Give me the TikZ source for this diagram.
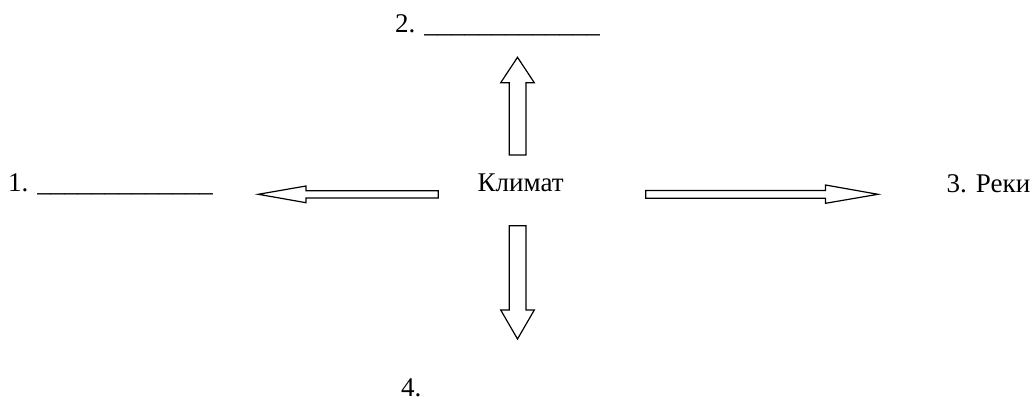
\documentclass[tikz,border=0pt]{standalone}
\usepackage{fontspec}
\setmainfont{Liberation Serif}
\begin{document}
\begin{tikzpicture}[x=1pt,y=-1pt,
  blockarrow/.style={draw=black,line width=1.2pt,fill=white,line join=miter},
  lbl/.style={anchor=base west,inner sep=0pt,font=\fontsize{27}{30}\selectfont}]
\useasboundingbox (0,0) rectangle (1036,401);
% labels
\node[lbl] (t1) at (8,191) {1. \_\_\_\_\_\_\_\_\_\_\_\_\_};
\node[lbl] (t2) at (395,32.5) {2. \_\_\_\_\_\_\_\_\_\_\_\_\_};
\node[lbl] (c) at (477.5,191) {Климат};
\node[lbl] (t3) at (946.5,192) {3. Реки};
\node[lbl] (t4) at (401,396) {4.};
% up arrow
\draw[blockarrow] (509.3,155) -- (509.3,82.7) -- (500.7,82.7) -- (517.5,57.3)
  -- (534.3,82.7) -- (526,82.7) -- (526,155) -- cycle;
% down arrow
\draw[blockarrow] (509.3,225.7) -- (509.3,310) -- (500.7,310) -- (517.5,339)
  -- (534.3,310) -- (526,310) -- (526,225.7) -- cycle;
% left arrow
\draw[blockarrow] (438.3,190.7) -- (306,190.7) -- (306,186) -- (258.3,194.3)
  -- (306,202.7) -- (306,198) -- (438.3,198) -- cycle;
% right arrow
\draw[blockarrow] (645.7,190.5) -- (825.5,190.5) -- (825.5,185) -- (878,194.3)
  -- (825.5,203.3) -- (825.5,198.3) -- (645.7,198.3) -- cycle;
\end{tikzpicture}
\end{document}
